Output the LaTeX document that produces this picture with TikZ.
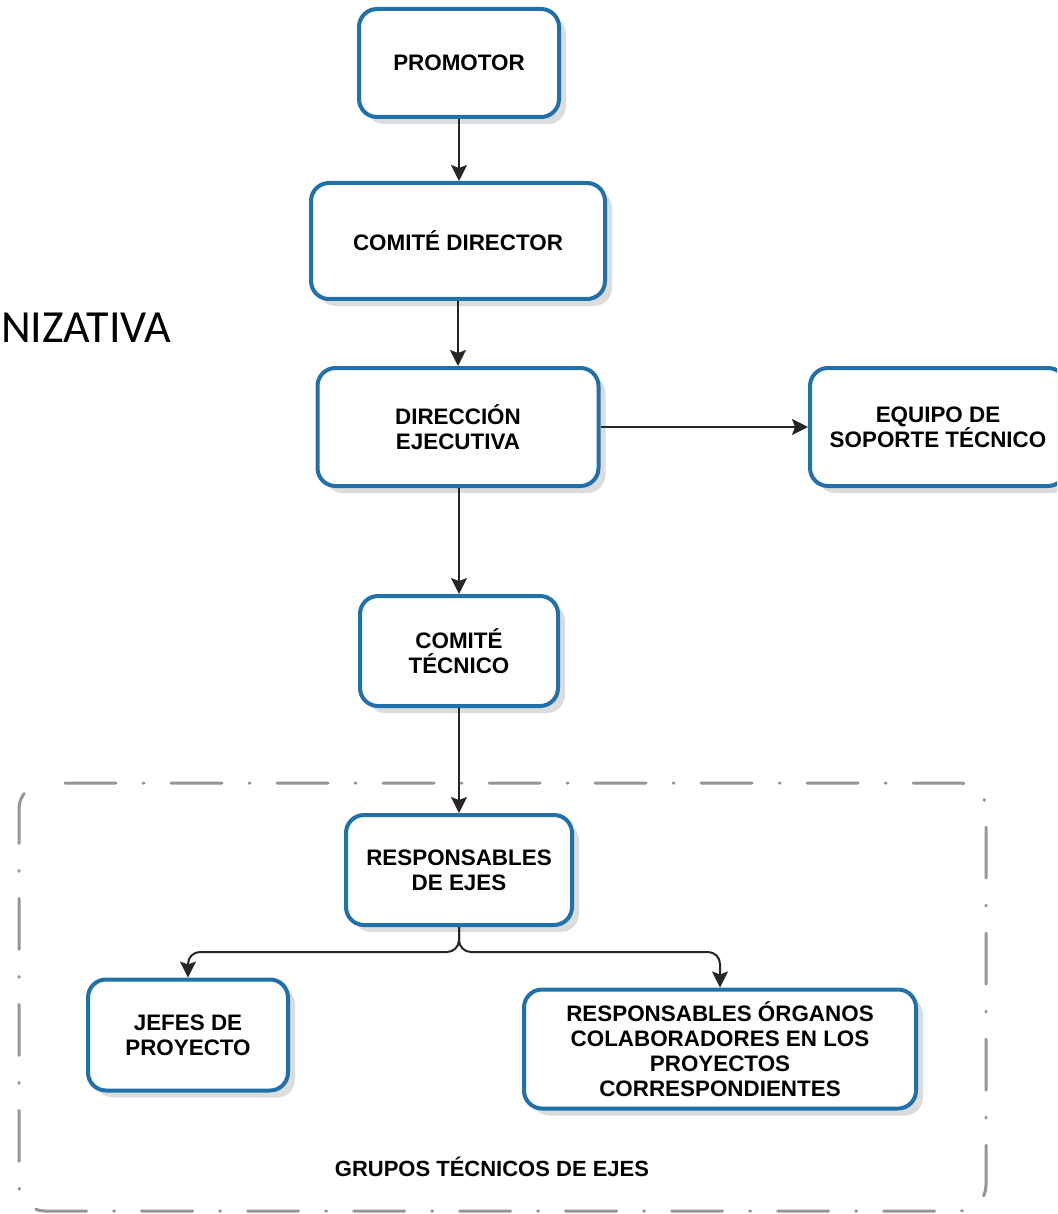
\documentclass[tikz,border=0pt]{standalone}
\usepackage{fontspec}
\setmainfont{Liberation Sans}
\newfontfamily\calfont{Carlito}
\usetikzlibrary{arrows.meta,shadows,calc}
\definecolor{boxblue}{RGB}{32,112,172}
\definecolor{dashgray}{RGB}{150,150,150}
\tikzset{
  orgbox/.style={draw=boxblue, line width=4pt, rounded corners=18pt, fill=white,
    align=center, font=\fontsize{22.4}{25}\selectfont\bfseries, inner sep=0pt,
    drop shadow={shadow xshift=7pt, shadow yshift=-7pt, fill=black!30, opacity=0.45}},
  conn/.style={draw=black!85, line width=2pt, -{Stealth[length=16pt,width=16pt,inset=3pt]}},
  groupframe/.style={draw=dashgray, line width=3pt, line cap=round, rounded corners=26pt,
    dash pattern=on 51pt off 27pt on 1pt off 27pt, dash phase=-20pt}
}
\begin{document}
\begin{tikzpicture}[x=1pt,y=-1pt]
\useasboundingbox (0,0) rectangle (1057,1214);
\clip (0,0) rectangle (1057,1214);
\fill[white] (0,0) rectangle (1057,1214);

% group frame
\draw[groupframe] (19,783) -- (986,783) -- (986,1211) -- (19,1211) -- cycle;

\node[orgbox, minimum width=200pt, minimum height=108pt] (prom) at (459,63) {PROMOTOR};
\node[orgbox, minimum width=294pt, minimum height=116pt] (cdir) at (458,241) {COMITÉ DIRECTOR};
\node[orgbox, minimum width=281pt, minimum height=118pt] (dire) at (458,427) {DIRECCIÓN\\EJECUTIVA};
\node[orgbox, minimum width=256pt, minimum height=118pt] (equi) at (938,427) {EQUIPO DE\\SOPORTE TÉCNICO};
\node[orgbox, minimum width=198pt, minimum height=110pt] (ctec) at (459,651) {COMITÉ\\TÉCNICO};
\node[orgbox, minimum width=226pt, minimum height=110pt] (rese) at (459,870) {RESPONSABLES\\DE EJES};
\node[orgbox, minimum width=200pt, minimum height=111pt] (jefe) at (188,1035) {JEFES DE\\PROYECTO};
\node[orgbox, minimum width=392pt, minimum height=119pt] (reso) at (720,1049) {RESPONSABLES ÓRGANOS\\COLABORADORES EN LOS\\PROYECTOS\\CORRESPONDIENTES};

\node[font=\fontsize{22}{25}\selectfont\bfseries] (grp) at (492,1167) {GRUPOS TÉCNICOS DE EJES};
\node[font=\calfont\fontsize{46}{50}\selectfont, anchor=west, inner sep=0pt] (title) at (1,328) {NIZATIVA};

\draw[conn] (prom.south) -- (cdir.north -| prom.south);
\draw[conn] (cdir.south) -- (dire.north -| cdir.south);
\draw[conn] (dire.east) -- (equi.west);
\draw[conn] (dire.south -| ctec.north) -- (ctec.north);
\draw[conn] (ctec.south) -- (rese.north);
\draw[conn, rounded corners=12pt] (rese.south) -- ($(rese.south)+(0,25)$) -| (jefe.north);
\draw[conn, rounded corners=12pt] (rese.south) -- ($(rese.south)+(0,25)$) -| (reso.north);
\end{tikzpicture}
\end{document}
